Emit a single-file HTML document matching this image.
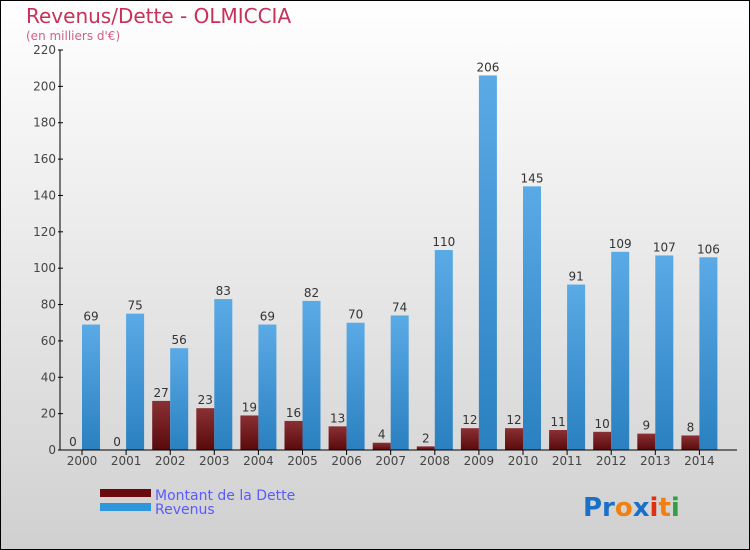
<!DOCTYPE html>
<html><head><meta charset="utf-8"><style>
body{margin:0}
#c{position:relative;width:750px;height:550px;overflow:hidden;font-family:"DejaVu Sans","Liberation Sans",sans-serif}
</style></head><body>
<div id="c">
<svg id="s" width="750" height="550" xmlns="http://www.w3.org/2000/svg">
<defs>
<linearGradient id="bg" x1="0" y1="0" x2="0" y2="1"><stop offset="0" stop-color="#ffffff"/><stop offset="1" stop-color="#d0d0d0"/></linearGradient>
<linearGradient id="gb" x1="0" y1="0" x2="0" y2="1"><stop offset="0" stop-color="#5aaae6"/><stop offset="1" stop-color="#2a80c0"/></linearGradient>
<linearGradient id="gr" x1="0" y1="0" x2="0" y2="1"><stop offset="0" stop-color="#8a3034"/><stop offset="1" stop-color="#5a0a0c"/></linearGradient>
</defs>
<rect x="0.5" y="0.5" width="749" height="549" fill="url(#bg)" stroke="#000"/>
<text x="26" y="23" font-size="20" fill="#c8305a">Revenus/Dette - OLMICCIA</text>
<text x="26" y="40" font-size="12" fill="#d0608a">(en milliers d'€)</text>
<g id="plot"></g>
<g>
<rect x="100" y="489" width="51" height="8" fill="#6a0a0c"/>
<text x="155" y="500" font-size="14" fill="#5a5aff">Montant de la Dette</text>
<rect x="100" y="503" width="51" height="8" fill="#2e96dc"/>
<text x="155" y="514" font-size="14" fill="#5a5aff">Revenus</text>
</g>
<text x="583" y="516" font-size="26" font-weight="bold"><tspan fill="#1a70c8">Pr</tspan><tspan fill="#f08010">o</tspan><tspan fill="#1a70c8">x</tspan><tspan fill="#e03010">i</tspan><tspan fill="#f08010">t</tspan><tspan fill="#30a040">i</tspan></text>
</svg>
</div>
<script>
const years=["2000","2001","2002","2003","2004","2005","2006","2007","2008","2009","2010","2011","2012","2013","2014"];
const dette=[0,0,27,23,19,16,13,4,2,12,12,11,10,9,8];
const revenus=[69,75,56,83,69,82,70,74,110,206,145,91,109,107,106];
const ticks=[0,20,40,60,80,100,120,140,160,180,200,220];
const NS="http://www.w3.org/2000/svg";
const g=document.getElementById("plot");
const y=v=>450-v*400/220;
const x0=i=>64+i*44.1;
function mk(t,a){const e=document.createElementNS(NS,t);for(const k in a)e.setAttribute(k,a[k]);g.appendChild(e);return e;}
ticks.forEach(t=>{
 const l=mk("line",{x1:58,x2:63,y1:y(t),y2:y(t),stroke:"#000"});
 
 
 const tx=mk("text",{x:56,y:y(t)+4,"font-size":12,"text-anchor":"end",fill:"#444"});tx.textContent=t;
 
 
});
years.forEach((yr,i)=>{
 const xs=x0(i);
 const b1=mk("rect",{x:xs,y:y(dette[i]),width:18,height:450-y(dette[i]),fill:"url(#gr)"});
 
 
 const b2=mk("rect",{x:xs+18,y:y(revenus[i]),width:18,height:450-y(revenus[i]),fill:"url(#gb)"});
 
 
 const t1=mk("text",{x:xs+9,y:y(dette[i])-4,"font-size":12,"text-anchor":"middle",fill:"#333"});t1.textContent=dette[i];
 
 
 const t2=mk("text",{x:xs+27,y:y(revenus[i])-4,"font-size":12,"text-anchor":"middle",fill:"#333"});t2.textContent=revenus[i];
 
 
 const tk=mk("line",{x1:xs+18,x2:xs+18,y1:450,y2:455,stroke:"#000"});
 
 
 const xl=mk("text",{x:xs+18,y:465,"font-size":12,"text-anchor":"middle",fill:"#444"});xl.textContent=yr;
 
 
});
const ya=mk("line",{x1:60,x2:60,y1:50,y2:450,stroke:"#000"});


const xa=mk("line",{x1:60,x2:737,y1:450,y2:450,stroke:"#000"});


</script>
</body></html>
